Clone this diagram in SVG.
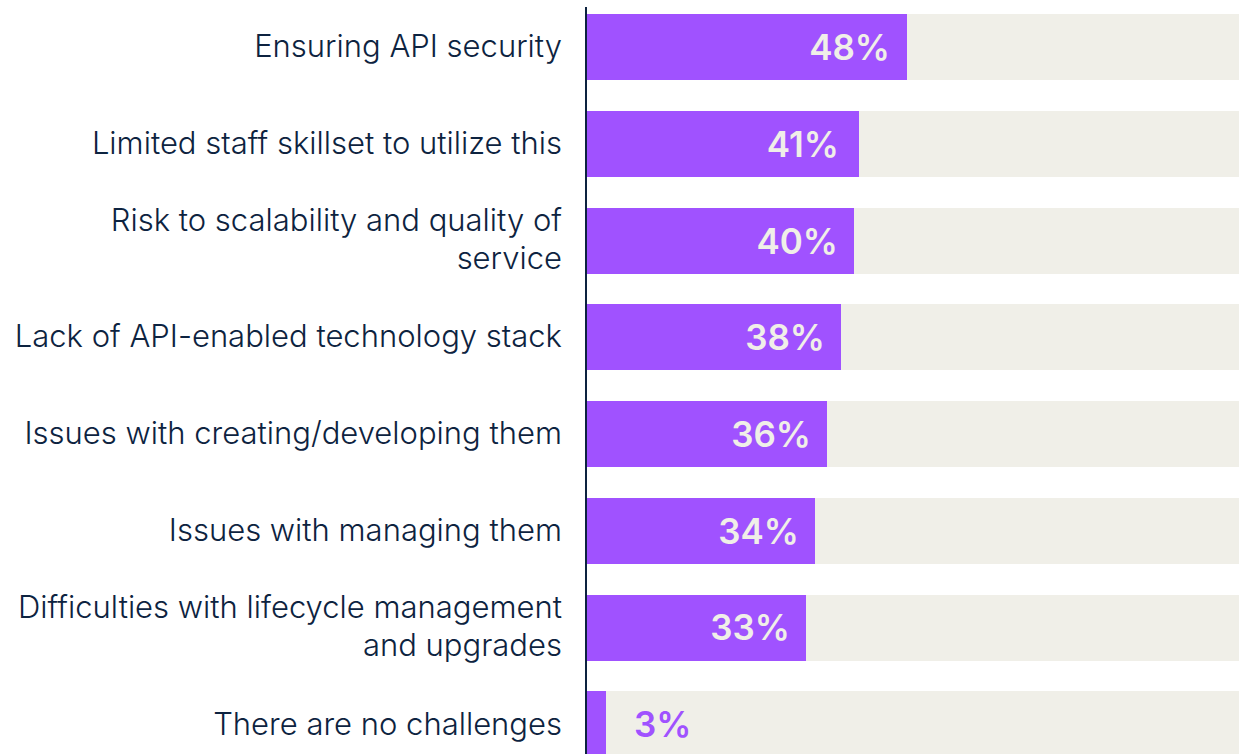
<svg xmlns="http://www.w3.org/2000/svg" width="1239" height="754" viewBox="0 0 1239 754">
<style>
.bg{fill:#F0EFE8}
.bar{fill:#A052FF}
.lbl{font-family:Inter,"Liberation Sans",sans-serif;font-size:31px;font-weight:300;fill:#0D2340;text-anchor:end}
.val{font-family:Inter,"Liberation Sans",sans-serif;font-size:35px;font-weight:600;fill:#F0EFE8;text-anchor:end}
.val2{font-family:Inter,"Liberation Sans",sans-serif;font-size:35px;font-weight:600;fill:#A052FF;text-anchor:start}
</style>
<rect width="1239" height="754" fill="#FFFFFF"/>
<g id="bar1"><rect class="bg" x="587" y="14" width="652" height="66"/><rect class="bar" x="587" y="14" width="320" height="66"/><text class="val" x="890" y="60">48%</text><text class="lbl" x="562" y="57">Ensuring API security</text></g>
<g id="bar2"><rect class="bg" x="587" y="111" width="652" height="66"/><rect class="bar" x="587" y="111" width="272" height="66"/><text class="val" x="839" y="157">41%</text><text class="lbl" x="562" y="154">Limited staff skillset to utilize this</text></g>
<g id="bar3"><rect class="bg" x="587" y="208" width="652" height="66"/><rect class="bar" x="587" y="208" width="267" height="66"/><text class="val" x="838" y="254">40%</text><text class="lbl" x="562" y="231">Risk to scalability and quality of</text><text class="lbl" x="562" y="269">service</text></g>
<g id="bar4"><rect class="bg" x="587" y="304" width="652" height="66"/><rect class="bar" x="587" y="304" width="254" height="66"/><text class="val" x="825" y="350">38%</text><text class="lbl" x="562" y="347">Lack of API-enabled technology stack</text></g>
<g id="bar5"><rect class="bg" x="587" y="401" width="652" height="66"/><rect class="bar" x="587" y="401" width="240" height="66"/><text class="val" x="811" y="447">36%</text><text class="lbl" x="562" y="444">Issues with creating/developing them</text></g>
<g id="bar6"><rect class="bg" x="587" y="498" width="652" height="66"/><rect class="bar" x="587" y="498" width="228" height="66"/><text class="val" x="799" y="544">34%</text><text class="lbl" x="562" y="541">Issues with managing them</text></g>
<g id="bar7"><rect class="bg" x="587" y="595" width="652" height="66"/><rect class="bar" x="587" y="595" width="219" height="66"/><text class="val" x="790" y="640">33%</text><text class="lbl" x="562" y="618">Difficulties with lifecycle management</text><text class="lbl" x="562" y="656">and upgrades</text></g>
<g id="bar8"><rect class="bg" x="587" y="691" width="652" height="66"/><rect class="bar" x="587" y="691" width="19" height="66"/><text class="val2" x="634" y="737">3%</text><text class="lbl" x="562" y="735">There are no challenges</text></g>
<g id="connectors"><line x1="586" y1="7" x2="586" y2="754" stroke="#0D2340" stroke-width="2"/></g>
</svg>
